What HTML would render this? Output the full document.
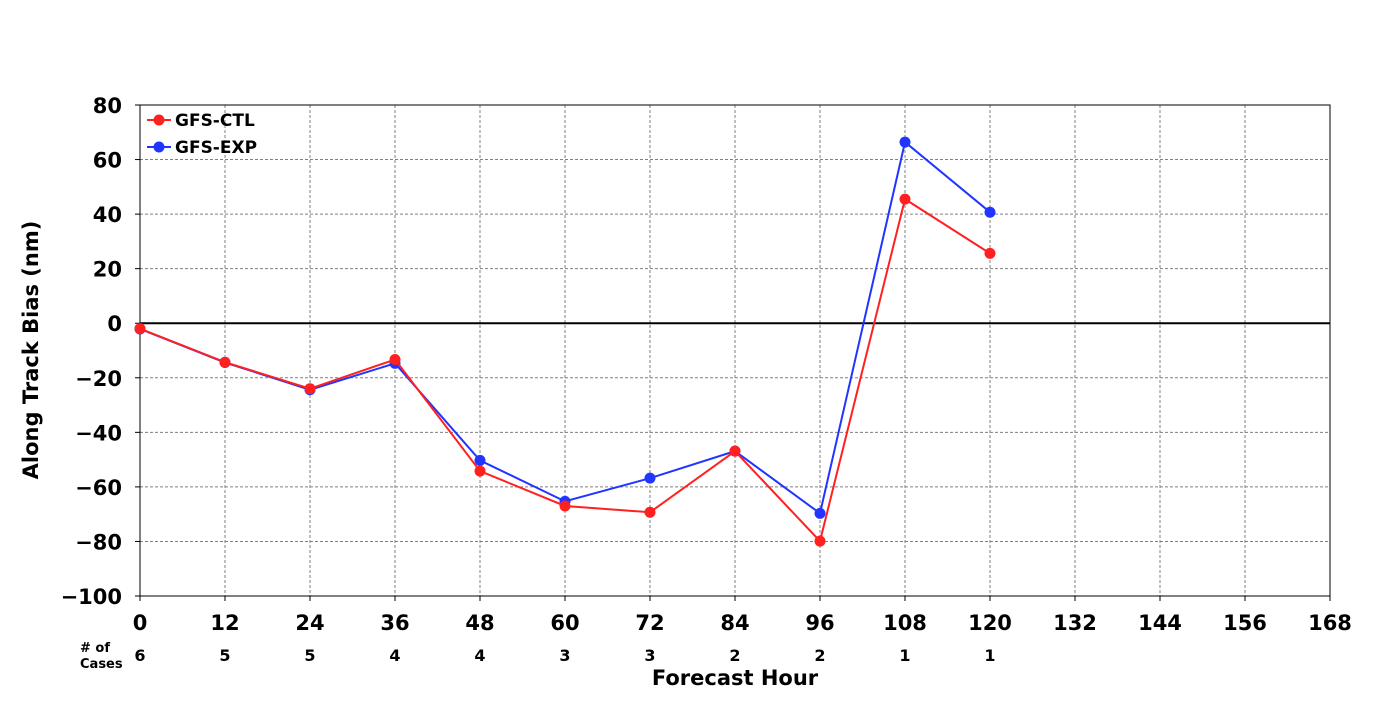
<!DOCTYPE html>
<html><head><meta charset="utf-8"><style>
body{margin:0;background:#fff;width:1400px;height:700px;overflow:hidden}
svg text{font-family:"DejaVu Sans","Liberation Sans",sans-serif;font-weight:bold;fill:#000}
</style></head><body>
<svg id="chart" width="1400" height="700" xmlns="http://www.w3.org/2000/svg">
<g id="grid"></g>
<g id="axes"></g>
<g id="series"></g>
<text x="38" y="350" font-size="21" text-anchor="middle" transform="rotate(-90 38 350)">Along Track Bias (nm)</text>
<text x="735" y="685" font-size="21" text-anchor="middle">Forecast Hour</text>
<text x="80" y="652" font-size="13">
<tspan x="80">#&#160;of</tspan><tspan x="80" dy="16">Cases</tspan></text>
<g>
<line x1="147" y1="120" x2="171" y2="120" stroke="#ff2020" stroke-width="2"/>
<circle cx="159" cy="120" r="5.5" fill="#ff2020"/>
<text x="175" y="126" font-size="17">GFS-CTL</text>
<line x1="147" y1="147" x2="171" y2="147" stroke="#2035ff" stroke-width="2"/>
<circle cx="159" cy="147" r="5.5" fill="#2035ff"/>
<text x="175" y="153" font-size="17">GFS-EXP</text>
</g>
</svg>
<script>
const hours = [0,12,24,36,48,60,72,84,96,108,120];
const ctl = [-2,-14.3,-24,-13.3,-54.2,-67,-69.3,-46.9,-79.9,45.5,25.6];
const exp = [-2.1,-14.4,-24.4,-14.7,-50.3,-65.3,-56.8,-46.9,-69.7,66.4,40.7];
const cases = [6,5,5,4,4,3,3,2,2,1,1];
const xTicks = [0,12,24,36,48,60,72,84,96,108,120,132,144,156,168];
const yTicks = [-100,-80,-60,-40,-20,0,20,40,60,80];

const X0=140,X1=1330,Y0=596,Y1=105;
const sx=v=>X0+(v-0)/(168-0)*(X1-X0);
const sy=v=>Y0-(v+100)/180*(Y0-Y1);
const NS="http://www.w3.org/2000/svg";
function mk(tag,attrs,parent){const e=document.createElementNS(NS,tag);for(const k in attrs)e.setAttribute(k,attrs[k]);parent.appendChild(e);return e;}
const grid=document.getElementById('grid'),axes=document.getElementById('axes'),ser=document.getElementById('series');
xTicks.forEach(t=>{
  const l=mk('line',{x1:sx(t),x2:sx(t),y1:Y1,y2:Y0,stroke:'#808080','stroke-dasharray':'3,2','stroke-width':1},grid);
  
  
  const tk=mk('line',{x1:sx(t),x2:sx(t),y1:Y0,y2:Y0+5,stroke:'#000'},axes);
  
  
  const tx=mk('text',{x:sx(t),y:630,'font-size':21,'text-anchor':'middle'},axes);
  tx.textContent=t;
  
  
});
yTicks.forEach(t=>{
  const l=mk('line',{x1:X0,x2:X1,y1:sy(t),y2:sy(t),stroke:t===0?'#000':'#808080','stroke-dasharray':t===0?'none':'3,2','stroke-width':t===0?2:1},grid);
  
  
  const tk=mk('line',{x1:X0-5,x2:X0,y1:sy(t),y2:sy(t),stroke:'#000'},axes);
  
  
  const tx=mk('text',{x:X0-18,y:sy(t)+8,'font-size':21,'text-anchor':'end'},axes);
  tx.textContent=t<0?'\u2212'+(-t):t;
  
  
});
const fr=mk('rect',{x:X0,y:Y1,width:X1-X0,height:Y0-Y1,fill:'none',stroke:'#000','stroke-width':1},axes);


cases.forEach((c,i)=>{
  const tx=mk('text',{x:sx(hours[i]),y:661,'font-size':16,'text-anchor':'middle'},axes);
  tx.textContent=c;
  
  
});
function drawSeries(vals,color,name){
  const pl=mk('polyline',{points:vals.map((v,i)=>sx(hours[i])+','+sy(v)).join(' '),fill:'none',stroke:color,'stroke-width':2},ser);
  
  
  vals.forEach((v,i)=>{
    const c=mk('circle',{cx:sx(hours[i]),cy:sy(v),r:5.5,fill:color},ser);
    
    
  });
}
drawSeries(exp,'#2035ff','gfs-exp');
drawSeries(ctl,'#ff2020','gfs-ctl');
</script>
</body></html>
